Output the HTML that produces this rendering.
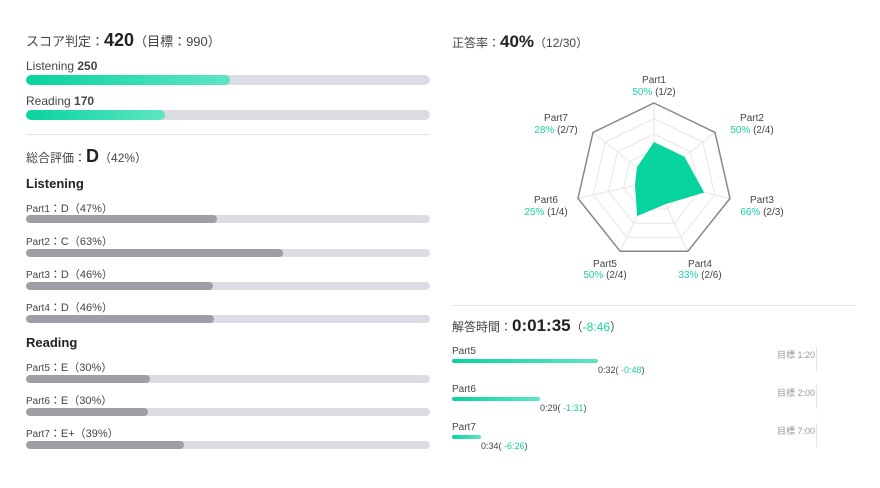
<!DOCTYPE html>
<html><head><meta charset="utf-8"><style>
body{margin:0;width:880px;height:488px;background:#fff;font-family:"Liberation Sans","Noto Sans CJK JP",sans-serif;color:#444;position:relative;overflow:hidden}
.a{position:absolute;white-space:nowrap}
.bar{position:absolute;left:26px;width:404px;background:#dcdce4;border-radius:6px;overflow:hidden}
.bar i{display:block;height:100%;border-radius:6px}
.g{background:linear-gradient(90deg,#08d39f,#5ee6c3)}
.k{background:#9e9ea6}
.t{color:#19d3a0}
.p{font-size:10px}
</style></head><body>
<div class="a" style="left:26px;top:30px;font-size:13px">スコア判定：<b style="font-size:18px;color:#222">420</b>（目標：990）</div>
<div class="a" style="left:26px;top:59px;font-size:12px">Listening <b>250</b></div>
<div class="bar" style="top:75px;height:10px"><i class="g" style="width:204px"></i></div>
<div class="a" style="left:26px;top:94px;font-size:12px">Reading <b>170</b></div>
<div class="bar" style="top:110px;height:10px"><i class="g" style="width:139px"></i></div>
<div class="a" style="left:26px;top:134px;width:404px;height:1px;background:#e4e4e4"></div>
<div class="a" style="left:26px;top:146px;font-size:12px">総合評価：<b style="font-size:18px;color:#222">D</b>（42%）</div>
<div class="a" style="left:26px;top:176px;font-size:13px;font-weight:bold;color:#222">Listening</div>
<div class="a" style="left:26px;top:200px;font-size:11px"><span class="p">Part1</span>：D（47%）</div>
<div class="bar" style="top:215px;height:8px"><i class="k" style="width:191px"></i></div>
<div class="a" style="left:26px;top:233px;font-size:11px"><span class="p">Part2</span>：C（63%）</div>
<div class="bar" style="top:249px;height:8px"><i class="k" style="width:257px"></i></div>
<div class="a" style="left:26px;top:266px;font-size:11px"><span class="p">Part3</span>：D（46%）</div>
<div class="bar" style="top:282px;height:8px"><i class="k" style="width:187px"></i></div>
<div class="a" style="left:26px;top:299px;font-size:11px"><span class="p">Part4</span>：D（46%）</div>
<div class="bar" style="top:315px;height:8px"><i class="k" style="width:188px"></i></div>
<div class="a" style="left:26px;top:335px;font-size:13px;font-weight:bold;color:#222">Reading</div>
<div class="a" style="left:26px;top:359px;font-size:11px"><span class="p">Part5</span>：E（30%）</div>
<div class="bar" style="top:375px;height:8px"><i class="k" style="width:124px"></i></div>
<div class="a" style="left:26px;top:392px;font-size:11px"><span class="p">Part6</span>：E（30%）</div>
<div class="bar" style="top:408px;height:8px"><i class="k" style="width:122px"></i></div>
<div class="a" style="left:26px;top:425px;font-size:11px"><span class="p">Part7</span>：E+（39%）</div>
<div class="bar" style="top:441px;height:8px"><i class="k" style="width:158px"></i></div>

<div class="a" style="left:452px;top:32px;font-size:12px">正答率：<b style="font-size:17px;color:#222">40%</b>（12/30）</div>
<svg class="a" style="left:0;top:0" width="880" height="300">
<g fill="none" stroke="#e6e6e6" stroke-width="1" id="grid"></g>
<polygon id="outer" fill="none" stroke="#888" stroke-width="1.5"/>
<polygon id="data" fill="#08d39f"/>
<g font-size="10" text-anchor="middle" fill="#444">
<text x="654" y="83">Part1</text><text x="654" y="95"><tspan fill="#19d3a0">50%</tspan> (1/2)</text>
<text x="752" y="121">Part2</text><text x="752" y="133"><tspan fill="#19d3a0">50%</tspan> (2/4)</text>
<text x="762" y="203">Part3</text><text x="762" y="215"><tspan fill="#19d3a0">66%</tspan> (2/3)</text>
<text x="700" y="267">Part4</text><text x="700" y="278"><tspan fill="#19d3a0">33%</tspan> (2/6)</text>
<text x="605" y="267">Part5</text><text x="605" y="278"><tspan fill="#19d3a0">50%</tspan> (2/4)</text>
<text x="546" y="203">Part6</text><text x="546" y="215"><tspan fill="#19d3a0">25%</tspan> (1/4)</text>
<text x="556" y="121">Part7</text><text x="556" y="133"><tspan fill="#19d3a0">28%</tspan> (2/7)</text>
</g>
</svg>
<script>
(function(){var cx=654,cy=181,R=78,v=[.5,.5,.66,.33,.5,.25,.28];
function pts(f){var s=[];for(var k=0;k<7;k++){var a=(-90+k*360/7)*Math.PI/180,r=R*(typeof f=='number'?f:f[k]);s.push((cx+r*Math.cos(a)).toFixed(1)+','+(cy+r*Math.sin(a)).toFixed(1));}return s.join(' ');}
var g=document.getElementById('grid'),h='';
for(var i=1;i<5;i++)h+='<polygon points="'+pts(i/5)+'"/>';
for(var k=0;k<7;k++){var a=(-90+k*360/7)*Math.PI/180;h+='<line x1="'+cx+'" y1="'+cy+'" x2="'+(cx+R*Math.cos(a))+'" y2="'+(cy+R*Math.sin(a))+'"/>';}
g.innerHTML=h;
document.getElementById('outer').setAttribute('points',pts(1));
document.getElementById('data').setAttribute('points',pts(v));})();
</script>
<div class="a" style="left:452px;top:305px;width:404px;height:1px;background:#e4e4e4"></div>
<div class="a" style="left:452px;top:316px;font-size:12px">解答時間：<b style="font-size:17px;color:#222">0:01:35</b>（<span class="t">-8:46</span>）</div>

<div class="a" style="left:452px;top:346px;font-size:10px">Part5</div>
<div class="a g" style="left:452px;top:359px;width:146px;height:4px;border-radius:2px"></div>
<div class="a" style="left:598px;top:365px;font-size:9px">0:32( <span class="t">-0:48</span>)</div>
<div class="a" style="left:777px;top:348px;font-size:9px;color:#999">目標 1:20</div>
<div class="a" style="left:816px;top:347px;width:1px;height:24px;background:#e4e4e4"></div>

<div class="a" style="left:452px;top:384px;font-size:10px">Part6</div>
<div class="a g" style="left:452px;top:397px;width:88px;height:4px;border-radius:2px"></div>
<div class="a" style="left:540px;top:403px;font-size:9px">0:29( <span class="t">-1:31</span>)</div>
<div class="a" style="left:777px;top:386px;font-size:9px;color:#999">目標 2:00</div>
<div class="a" style="left:816px;top:385px;width:1px;height:24px;background:#e4e4e4"></div>

<div class="a" style="left:452px;top:422px;font-size:10px">Part7</div>
<div class="a g" style="left:452px;top:435px;width:29px;height:4px;border-radius:2px"></div>
<div class="a" style="left:481px;top:441px;font-size:9px">0:34( <span class="t">-6:26</span>)</div>
<div class="a" style="left:777px;top:424px;font-size:9px;color:#999">目標 7:00</div>
<div class="a" style="left:816px;top:423px;width:1px;height:24px;background:#e4e4e4"></div>
</body></html>
